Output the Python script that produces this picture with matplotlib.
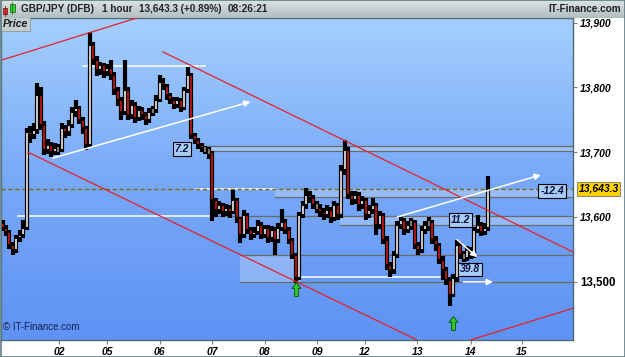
import numpy as np
import matplotlib
matplotlib.use('Agg')
import matplotlib.pyplot as plt
from matplotlib.colors import LinearSegmentedColormap
from matplotlib.patches import Rectangle
from matplotlib.path import Path
import matplotlib.transforms as mtransforms

plt.rcParams['font.family'] = ['Liberation Sans', 'DejaVu Sans']

# ---------------- data ----------------
first_open = 13590
closes = [13583, 13577, 13557, 13549, 13567, 13572, 13583, 13731, 13726, 13734,
          13788, 13742, 13703, 13711, 13700, 13706, 13703, 13737, 13731, 13742,
          13762, 13768, 13750, 13737, 13711, 13866, 13842, 13827, 13834, 13824,
          13830, 13819, 13796, 13781, 13762, 13796, 13757, 13773, 13753, 13765,
          13757, 13750, 13762, 13765, 13781, 13808, 13803, 13788, 13781, 13773,
          13781, 13768, 13796, 13819, 13726, 13719, 13711, 13706, 13703, 13700,
          13626, 13611, 13618, 13608, 13614, 13608, 13626, 13598, 13572, 13603,
          13580, 13572, 13577, 13588, 13572, 13583, 13567, 13580, 13565, 13583,
          13592, 13580, 13565, 13541, 13506, 13603, 13618, 13634, 13629, 13618,
          13614, 13608, 13603, 13611, 13598, 13618, 13603, 13673, 13703, 13634,
          13626, 13634, 13618, 13626, 13603, 13611, 13618, 13588, 13603, 13565,
          13526, 13518, 13541, 13588, 13595, 13580, 13588, 13592, 13557, 13549,
          13580, 13588, 13592, 13565, 13557, 13534, 13518, 13503, 13480, 13506,
          13557, 13541, 13537, 13549, 13541, 13580, 13588, 13577, 13583, 13643]
highs = [13595, 13588, 13580, 13562, 13572, 13580, 13595, 13737, 13740, 13745,
         13807, 13800, 13748, 13720, 13716, 13714, 13712, 13745, 13742, 13750,
         13770, 13781, 13772, 13755, 13740, 13886, 13870, 13848, 13840, 13838,
         13836, 13842, 13824, 13800, 13785, 13842, 13800, 13780, 13778, 13772,
         13770, 13762, 13768, 13772, 13788, 13819, 13815, 13806, 13792, 13785,
         13786, 13784, 13800, 13831, 13822, 13730, 13722, 13715, 13710, 13708,
         13702, 13630, 13625, 13622, 13620, 13618, 13642, 13630, 13600, 13611,
         13606, 13585, 13584, 13595, 13592, 13588, 13587, 13586, 13584, 13590,
         13613, 13597, 13584, 13568, 13545, 13608, 13625, 13645, 13640, 13634,
         13624, 13620, 13614, 13618, 13615, 13624, 13622, 13680, 13719, 13708,
         13640, 13640, 13638, 13632, 13630, 13618, 13630, 13622, 13610, 13606,
         13570, 13530, 13548, 13594, 13600, 13598, 13594, 13598, 13595, 13562,
         13586, 13594, 13600, 13595, 13570, 13560, 13540, 13522, 13508, 13512,
         13565, 13562, 13548, 13555, 13553, 13585, 13603, 13592, 13590, 13663]
lows = [13578, 13570, 13550, 13541, 13545, 13562, 13568, 13580, 13715, 13720,
        13728, 13735, 13695, 13698, 13692, 13696, 13695, 13700, 13722, 13725,
        13738, 13755, 13744, 13728, 13703, 13708, 13835, 13818, 13820, 13815,
        13818, 13812, 13788, 13772, 13750, 13758, 13750, 13752, 13745, 13748,
        13750, 13742, 13745, 13756, 13760, 13778, 13796, 13780, 13774, 13766,
        13768, 13762, 13765, 13792, 13720, 13712, 13705, 13700, 13697, 13690,
        13594, 13600, 13605, 13600, 13602, 13598, 13604, 13590, 13560, 13568,
        13574, 13565, 13568, 13572, 13566, 13568, 13560, 13562, 13541, 13560,
        13578, 13574, 13558, 13535, 13498, 13502, 13598, 13612, 13622, 13612,
        13606, 13600, 13596, 13598, 13590, 13594, 13596, 13598, 13665, 13628,
        13618, 13620, 13610, 13612, 13596, 13598, 13605, 13572, 13582, 13558,
        13518, 13508, 13512, 13536, 13582, 13572, 13575, 13580, 13550, 13541,
        13545, 13574, 13578, 13558, 13548, 13528, 13503, 13495, 13462, 13476,
        13500, 13535, 13530, 13532, 13535, 13536, 13575, 13570, 13572, 13578]

day_labels = ['02', '05', '06', '07', '08', '09', '12', '13', '14', '15']
day_pos = [16.3, 29.9, 45.0, 60.0, 75.0, 90.1, 103.7, 118.7, 134.0, 148.7]
price_ticks = [13500, 13600, 13700, 13800, 13900]
price_labels = ['13,500', '13,600', '13,700', '13,800', '13,900']
last_price = 13643.3
last_label = '13,643.3'

# drawing objects (bar index, price)
red_lines = [((-0.43, 13842), (40.0, 13910)),
             ((7.3, 13700), (118.7, 13410)),
             ((45.9, 13855), (163.3, 13546)),
             ((133.9, 13410), (163.3, 13459))]
white_hlines = [(23.0, 58.1, 13833), (4.4, 60.4, 13601), (55.3, 78.1, 13643),
                (84.1, 125.3, 13507)]
grey_hlines = [(60.4, 163.3, 13601), (58.1, 163.3, 13710), (58.1, 163.3, 13702),
               (78.1, 163.3, 13630.5), (96.7, 163.3, 13587.6),
               (68.1, 163.3, 13541.4), (68.1, 163.3, 13499.7)]
zones = [(78.1, 163.3, 13630.5, 13643.3), (96.7, 163.3, 13587.6, 13601),
         (68.1, 85.3, 13499.7, 13541.4), (58.1, 163.3, 13702, 13710)]
white_arrows = [((14.4, 13691), (71.0, 13778)), ((113.0, 13600), (154.1, 13665)),
                ((130.1, 13565), (135.9, 13538)), ((131.9, 13499.7), (140.4, 13499.7))]
green_marks = [(84.1, 13489), (129.0, 13437)]
box_labels = [(51.3, 13705, '7.2'), (157.3, 13640, '-12.4'),
              (131.0, 13595, '11.2'), (133.9, 13519, '39.8')]

# ---------------- figure ----------------
W, H = 625, 357
fig = plt.figure(figsize=(W / 100, H / 100), dpi=100)
fig.patch.set_facecolor('white')

plot_l, plot_r, plot_t, plot_b = 1, 573, 18, 340
ax = fig.add_axes([plot_l / W, 1 - plot_b / H, (plot_r - plot_l) / W, (plot_b - plot_t) / H])
xmin, xmax = -0.43, 163.3
ymin, ymax = 13410.0, 13907.3
ax.set_xlim(xmin, xmax)
ax.set_ylim(ymin, ymax)

cmap = LinearSegmentedColormap.from_list('bg', ['#5e92f4', '#78a9f8', '#a4cffe'])
grad = np.linspace(0, 1, 256).reshape(-1, 1)
ax.imshow(grad, extent=[xmin, xmax, ymin, ymax], origin='lower', aspect='auto',
          cmap=cmap, zorder=0)

# zones
for x0, x1, y0, y1 in zones:
    ax.add_patch(Rectangle((x0, y0), x1 - x0, y1 - y0, facecolor='white', alpha=0.25,
                           edgecolor='none', zorder=1))
for x0, x1, y in grey_hlines:
    ax.plot([x0, x1], [y, y], color='#6c6c64', lw=0.9, zorder=1.5)
for x0, x1, y in white_hlines:
    ax.plot([x0, x1], [y, y], color='white', lw=1.1, zorder=1.6)
ax.axhline(last_price, color='#7a6a10', lw=1.0, ls=(0, (3, 2)), zorder=1.7)

# candles
n = len(closes)
opens = [first_open] + closes[:-1]
xs = np.arange(n)
ax.vlines(xs, lows, highs, color='black', lw=3.0, zorder=3)
for i in range(n):
    o, c = opens[i], closes[i]
    lo, hi = min(o, c), max(o, c)
    if hi - lo > 4:
        lo += 1.6
        hi -= 1.6
        col = 'white' if c > o else '#e01818'
    else:
        col = '#a39c86'
        lo -= 2
        hi += 2
    ax.vlines(i, lo, hi, color=col, lw=1.1, zorder=3.2)

for (x0, y0), (x1, y1) in red_lines:
    ax.plot([x0, x1], [y0, y1], color='#e8202a', lw=0.9, zorder=3.5, clip_on=True)

for (x0, y0), (x1, y1) in white_arrows:
    ax.annotate('', xy=(x1, y1), xytext=(x0, y0),
                arrowprops=dict(arrowstyle='-|>', color='white', lw=1.1,
                                mutation_scale=9, shrinkA=0, shrinkB=0), zorder=4)

arrow_path = Path([(0, 1), (0.65, 0.15), (0.28, 0.15), (0.28, -1), (-0.28, -1),
                   (-0.28, 0.15), (-0.65, 0.15), (0, 1)], closed=True)
for x, y in green_marks:
    ax.plot([x], [y], marker=arrow_path, ms=10, mfc='#2ec82e', mec='#0e5a0e', mew=0.7,
            zorder=4.5, ls='none')

for x, y, t in box_labels:
    ax.text(x, y, t, ha='center', va='center', fontsize=7.5, fontweight='bold',
            fontstyle='italic', color='#10103a', zorder=5,
            bbox=dict(boxstyle='square,pad=0.18', facecolor='#a6ccfa',
                      edgecolor='black', lw=0.8))

ax.text(0.004, 0.025, '\u00a9 IT-Finance.com', transform=ax.transAxes, fontsize=7,
        color='#14204a', ha='left', va='bottom', zorder=5)

# axes styling
for s in ax.spines.values():
    s.set_color('#4d6b75')
    s.set_linewidth(1.0)
ax.yaxis.tick_right()
ax.set_yticks(price_ticks)
ax.set_yticklabels(price_labels)
ax.tick_params(axis='y', direction='out', length=3, width=0.8, color='#808080', pad=2)
for lab in ax.get_yticklabels():
    lab.set_fontsize(7.5)
    lab.set_fontweight('bold')
    lab.set_fontstyle('italic')
ylabs = ax.get_yticklabels()
ylabs[0].set_fontstyle('normal')
ylabs[0].set_fontsize(8.3)

ax.set_xticks(day_pos)
ax.set_xticklabels(day_labels)
ax.tick_params(axis='x', direction='out', length=3, width=0.8, color='#808080', pad=2)
for lab in ax.get_xticklabels():
    lab.set_fontsize(7.5)
    lab.set_fontweight('bold')
    lab.set_fontstyle('italic')

trans = mtransforms.blended_transform_factory(ax.transAxes, ax.transData)
ax.text(1.0095, last_price, last_label, transform=trans, ha='left', va='center',
        fontsize=7.5, fontweight='bold', fontstyle='italic', color='black', zorder=6,
        clip_on=False,
        bbox=dict(boxstyle='square,pad=0.15', facecolor='#ffd200', edgecolor='#8a8a70', lw=0.8))

# Price tag
ax.text(0.003, 0.997, 'Price', transform=ax.transAxes, ha='left', va='top', fontsize=7.5,
        fontweight='bold', fontstyle='italic', color='#1a1a1a', zorder=6,
        bbox=dict(boxstyle='square,pad=0.2', facecolor='#c6cfd0', edgecolor='#8c9698', lw=0.6))

# title bar
tax = fig.add_axes([0, 1 - 18 / H, 1, 18 / H])
tax.set_xlim(0, W)
tax.set_ylim(18, 0)
tcmap = LinearSegmentedColormap.from_list('tb', ['#dde3e3', '#b3bfc0'])
tax.imshow(np.linspace(0, 1, 64).reshape(-1, 1), extent=[0, W, 18, 0], aspect='auto',
           cmap=tcmap, zorder=0)
tax.axis('off')
tax.add_patch(Rectangle((3, 7.5), 4, 6, facecolor='#f03030', edgecolor='#802020', lw=0.6))
tax.plot([5, 5], [5.5, 15.5], color='#802020', lw=0.6)
tax.add_patch(Rectangle((10, 3.5), 4.5, 8, facecolor='#30d030', edgecolor='#207020', lw=0.6))
tax.plot([12.2, 12.2], [1.5, 14], color='#207020', lw=0.6)
for x, t in [(21, 'GBP/JPY (DFB)'), (102, '1 hour'), (139, '13,643.3 (+0.89%)'),
             (228, '08:26:21')]:
    tax.text(x, 9, t, ha='left', va='center', fontsize=7.2, fontweight='bold',
             color='#222222')
tax.text(621, 9, 'IT-Finance.com', ha='right', va='center', fontsize=7.2,
         fontweight='bold', color='#222222')
tax.plot([0, W], [17.6, 17.6], color='#7a9096', lw=0.8)

# outer border
fig.add_artist(Rectangle((0.0008, 0.0014), 0.9984, 0.9972, transform=fig.transFigure,
                         fill=False, edgecolor='#5f7d86', lw=1.2))

fig.savefig('out.png', dpi=100)
